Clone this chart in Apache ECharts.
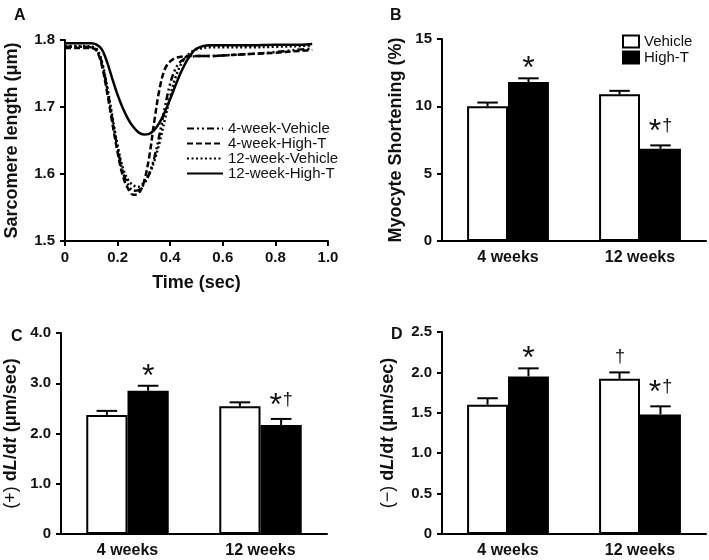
<!DOCTYPE html>
<html><head><meta charset="utf-8">
<script src="https://cdn.jsdelivr.net/npm/echarts/dist/echarts.min.js"></script>
<style>html,body{margin:0;padding:0;background:#fff}#c{width:709px;height:560px}</style>
</head><body><div id="c"></div><script>
const FONT = "'Liberation Sans', Arial, Helvetica, sans-serif";
const INK = '#111';

// Panel A: sarcomere length traces
const timeSec = [0,0.05,0.1,0.12,0.14,0.16,0.18,0.2,0.22,0.24,0.26,0.28,0.3,0.32,0.34,0.36,0.38,0.4,0.42,0.44,0.46,0.48,0.5,0.55,0.6,0.7,0.8,0.9,0.94];
const sl4wVehicle = [1.790,1.790,1.789,1.785,1.766,1.728,1.682,1.638,1.603,1.584,1.575,1.576,1.585,1.600,1.625,1.660,1.700,1.735,1.757,1.768,1.773,1.775,1.776,1.776,1.777,1.779,1.782,1.786,1.787];
const sl4wHighT   = [1.788,1.788,1.788,1.784,1.762,1.722,1.676,1.632,1.597,1.578,1.569,1.571,1.588,1.625,1.680,1.728,1.757,1.768,1.773,1.775,1.776,1.776,1.776,1.776,1.777,1.779,1.781,1.784,1.785];
const sl12wVehicle= [1.791,1.791,1.790,1.787,1.768,1.731,1.686,1.642,1.609,1.591,1.583,1.581,1.587,1.600,1.620,1.648,1.682,1.716,1.744,1.763,1.775,1.782,1.786,1.789,1.789,1.789,1.790,1.791,1.792];
const sl12wHighT  = [1.795,1.795,1.795,1.793,1.786,1.767,1.742,1.718,1.698,1.682,1.670,1.662,1.659,1.660,1.666,1.677,1.693,1.712,1.732,1.751,1.767,1.779,1.787,1.792,1.792,1.792,1.793,1.793,1.794];
const traceNames = ['4-week-Vehicle','4-week-High-T','12-week-Vehicle','12-week-High-T'];

// Bar panels
const cats = ['4 weeks','12 weeks'];
const groupNames = ['Vehicle','High-T'];
const shortVehicle = [10.0, 10.9], shortVehicleErr = [0.28, 0.25];
const shortHighT   = [11.8, 6.85], shortHighTErr   = [0.28, 0.25];
const plusVehicle  = [2.37, 2.54], plusVehicleErr  = [0.08, 0.08];
const plusHighT    = [2.85, 2.17], plusHighTErr    = [0.10, 0.12];
const minusVehicle = [1.60, 1.92], minusVehicleErr = [0.08, 0.08];
const minusHighT   = [1.95, 1.48], minusHighTErr   = [0.10, 0.10];
const annShortVehicle = ['', ''],  annShortHighT = ['*', '*†'];
const annPlusVehicle  = ['', ''],  annPlusHighT  = ['*', '*†'];
const annMinusVehicle = ['', '†'], annMinusHighT = ['*', '*†'];

const BAR_GAP = 0.38;               // barCategoryGap fraction
const BAR_FRAC = (1 - BAR_GAP) / 2; // each bar's share of the band

const pairs = (xs, ys) => xs.map((x, i) => [x, ys[i]]);

function annRich(s) {
  return s.split('').map(ch => ch === '*' ? '{s|*}' : '{d|†}').join('');
}

function errSeries(gi, vals, errs, anns, side) {
  return {
    type: 'custom', xAxisIndex: gi, yAxisIndex: gi, z: 5, silent: true,
    data: vals.map((v, i) => [i, v, errs[i], i]),
    renderItem: function (params, api) {
      const idx = api.value(0), v = api.value(1), e = api.value(2);
      const base = api.coord([idx, v]);
      const top = api.coord([idx, v + e]);
      const band = api.size([1, 0])[0];
      const bw = band * BAR_FRAC;
      const cx = base[0] + side * bw / 2;
      const half = bw / 4;
      const children = [
        { type: 'line', shape: { x1: cx, y1: base[1], x2: cx, y2: top[1] }, style: { stroke: '#000', lineWidth: 2 } },
        { type: 'line', shape: { x1: cx - half, y1: top[1], x2: cx + half, y2: top[1] }, style: { stroke: '#000', lineWidth: 2 } }
      ];
      const a = anns[api.value(3)];
      if (a) {
        children.push({
          type: 'text', x: cx, y: top[1] - (a.length > 1 ? 13 : 9),
          style: {
            text: annRich(a), align: 'center', verticalAlign: 'middle', fill: INK,
            rich: {
              s: { fontSize: 32, fontFamily: FONT, fill: INK },
              d: { fontSize: 18, fontFamily: FONT, fill: INK, padding: [0, 0, 12, 1] }
            }
          }
        });
      }
      return { type: 'group', children: children };
    }
  };
}

function barSeries(gi, name, vals, fill) {
  return {
    type: 'bar', name: name, xAxisIndex: gi, yAxisIndex: gi, data: vals,
    barGap: '0%', barCategoryGap: (BAR_GAP * 100) + '%',
    itemStyle: { color: fill, borderColor: '#000', borderWidth: 2 }
  };
}

const axisLine = { show: true, lineStyle: { color: '#000', width: 2 } };
const axisTick = { show: true, length: 5, lineStyle: { color: '#000', width: 2 } };
const tickLabel = (fmt, margin) => ({ fontSize: 15, fontWeight: 'bold', color: INK, fontFamily: FONT, margin: margin, formatter: fmt });
const dec1 = v => (v === 0 ? '0' : Number(v).toFixed(1));
const nameStyle = { fontSize: 18, fontWeight: 'bold', color: INK, fontFamily: FONT,
  rich: {
    n: { fontSize: 18, fontWeight: 'normal', fontFamily: FONT, color: INK },
    b: { fontSize: 18, fontWeight: 'bold', fontFamily: FONT, color: INK },
    i: { fontSize: 18, fontWeight: 'bold', fontStyle: 'italic', fontFamily: FONT, color: INK }
  } };

function catAxis(gi) {
  return { gridIndex: gi, type: 'category', data: cats, axisLine: axisLine, axisTick: { show: false },
    axisLabel: { fontSize: 16, fontWeight: 'bold', color: INK, fontFamily: FONT, margin: 9 } };
}
function valAxis(gi, min, max, interval, fmt, name, gap) {
  return { gridIndex: gi, type: 'value', min: min, max: max, interval: interval,
    axisLine: axisLine, axisTick: axisTick, splitLine: { show: false },
    axisLabel: tickLabel(fmt, 10),
    name: name, nameLocation: 'middle', nameGap: gap, nameTextStyle: nameStyle };
}

const lineStyles = [
  { type: [7, 3, 2, 3, 2, 3], width: 2.5 },
  { type: [6, 3], width: 2.5 },
  { type: [2, 2.5], width: 2.5 },
  { type: 'solid', width: 2.5 }
];
const traces = [sl4wVehicle, sl4wHighT, sl12wVehicle, sl12wHighT];

const option = {
  animation: false,
  backgroundColor: '#fff',
  textStyle: { fontFamily: FONT },
  title: [
    { text: 'A', left: 9, top: 3 },
    { text: 'B', left: 385, top: 3 },
    { text: 'C', left: 6, top: 324 },
    { text: 'D', left: 386, top: 322 }
  ].map(t => Object.assign(t, { textStyle: { fontSize: 16, fontWeight: 'bold', color: INK, fontFamily: FONT } })),
  grid: [
    { left: 65, top: 40, width: 263, height: 201 },
    { left: 442, top: 39, width: 264, height: 202 },
    { left: 61, top: 333, width: 266, height: 201 },
    { left: 442, top: 332, width: 264, height: 202 }
  ],
  legend: [
    { data: traceNames, orient: 'vertical', left: 181, top: 116, itemWidth: 36, itemHeight: 14, itemGap: 0,
      itemStyle: { opacity: 0 },
      textStyle: { fontSize: 15, color: INK, fontFamily: FONT, lineHeight: 14 } },
    { data: groupNames, orient: 'vertical', left: 617, top: 29, itemWidth: 16, itemHeight: 12, itemGap: 1, icon: 'rect',
      textStyle: { fontSize: 15, color: INK, fontFamily: FONT, lineHeight: 13 } }
  ],
  xAxis: [
    { gridIndex: 0, type: 'value', min: 0, max: 1, interval: 0.2, axisLine: axisLine, axisTick: axisTick,
      splitLine: { show: false }, axisLabel: tickLabel(dec1, 9),
      name: 'Time (sec)', nameLocation: 'middle', nameGap: 33, nameTextStyle: nameStyle },
    catAxis(1), catAxis(2), catAxis(3)
  ],
  yAxis: [
    valAxis(0, 1.5, 1.8, 0.1, v => Number(v).toFixed(1), 'Sarcomere length (μm)', 44),
    valAxis(1, 0, 15, 5, v => String(v), 'Myocyte Shortening (%)', 37),
    valAxis(2, 0, 4, 1, dec1, '{n|(+)} {b|d}{i|L}{b|/d}{i|t}{b| (μm/sec)}', 41),
    valAxis(3, 0, 2.5, 0.5, dec1, '{n|(−)} {b|d}{i|L}{b|/d}{i|t}{b| (μm/sec)}', 45)
  ],
  series: [
    ...traces.map((tr, k) => ({
      type: 'line', name: traceNames[k], xAxisIndex: 0, yAxisIndex: 0,
      data: pairs(timeSec, tr), smooth: 0.35, symbol: 'none', showSymbol: false,
      lineStyle: Object.assign({ color: '#000' }, lineStyles[k]), itemStyle: { color: '#000' },
      z: k === 3 ? 4 : 3
    })),
    barSeries(1, 'Vehicle', shortVehicle, '#fff'),
    barSeries(1, 'High-T', shortHighT, '#000'),
    errSeries(1, shortVehicle, shortVehicleErr, annShortVehicle, -1),
    errSeries(1, shortHighT, shortHighTErr, annShortHighT, 1),
    barSeries(2, 'Vehicle', plusVehicle, '#fff'),
    barSeries(2, 'High-T', plusHighT, '#000'),
    errSeries(2, plusVehicle, plusVehicleErr, annPlusVehicle, -1),
    errSeries(2, plusHighT, plusHighTErr, annPlusHighT, 1),
    barSeries(3, 'Vehicle', minusVehicle, '#fff'),
    barSeries(3, 'High-T', minusHighT, '#000'),
    errSeries(3, minusVehicle, minusVehicleErr, annMinusVehicle, -1),
    errSeries(3, minusHighT, minusHighTErr, annMinusHighT, 1)
  ]
};
const chart = echarts.init(document.getElementById('c'), null, { renderer: 'canvas' });
chart.setOption(option);
</script></body></html>
